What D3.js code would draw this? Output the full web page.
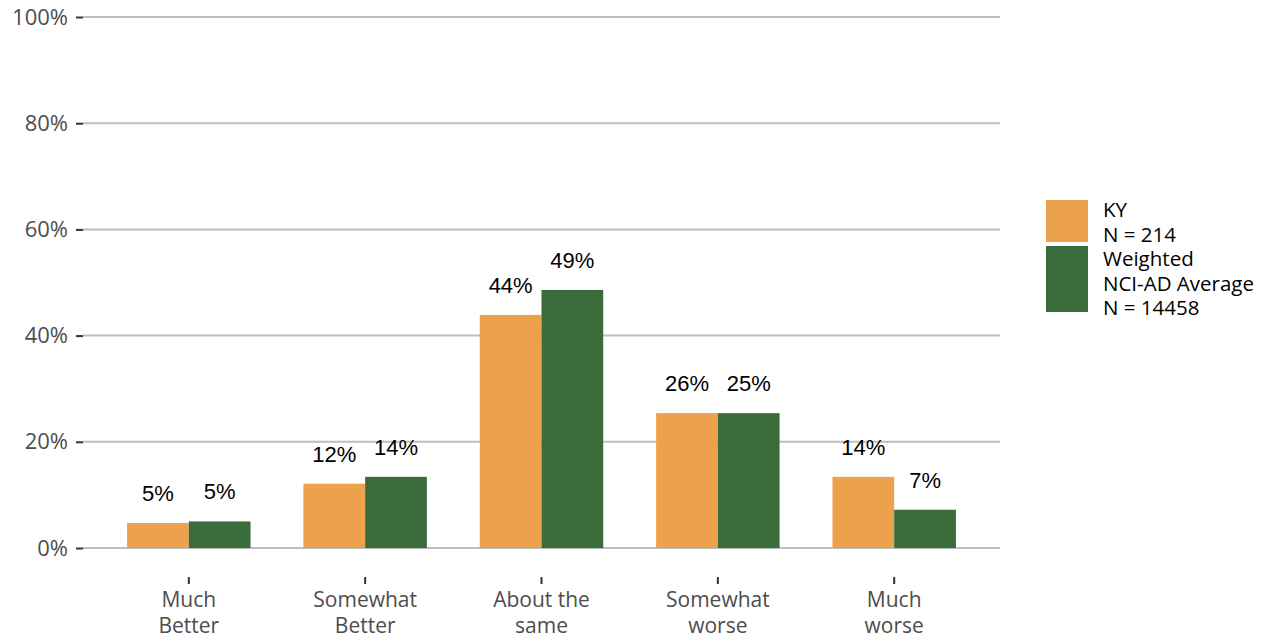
<!DOCTYPE html>
<html>
<head>
<meta charset="utf-8">
<script src="https://cdn.jsdelivr.net/npm/d3@7"></script>
<style>
  body { margin: 0; background: #fff; }
</style>
</head>
<body>
<div id="chart"></div>
<script>
// data
const categories = ["Much\nBetter", "Somewhat\nBetter", "About the\nsame", "Somewhat\nworse", "Much\nworse"];
const seriesNames = ["KY", "NCI-AD"];
const kyValues = [4.7, 12.1, 43.9, 25.4, 13.4];
const nciValues = [5.0, 13.4, 48.6, 25.4, 7.2];
const kyLabels = ["5%", "12%", "44%", "26%", "14%"];
const nciLabels = ["5%", "14%", "49%", "25%", "7%"];
const yTicks = [0, 20, 40, 60, 80, 100];
const legendLabels = [["KY", "N = 214"], ["Weighted", "NCI-AD Average", "N = 14458"]];

const colors = { "KY": "#eca14c", "NCI-AD": "#396b3b" };

const W = 1264, H = 641;
const svg = d3.select("#chart").append("svg")
  .attr("width", W).attr("height", H);

// panel runs 83..1000 in x, 0% at 548 and 100% at 17
const x = d3.scaleBand()
  .domain(categories)
  .range([83, 1000])
  .paddingOuter(0.1)
  .paddingInner(0);

const y = d3.scaleLinear().domain([0, 100]).range([548, 17]);

// gridlines
svg.append("g")
  .selectAll("line")
  .data(yTicks)
  .join("line")
  .attr("x1", 83).attr("x2", 1000)
  .attr("y1", d => y(d)).attr("y2", d => y(d))
  .attr("stroke", "#bebebe")
  .attr("stroke-width", 2);

// y axis
const yAxis = svg.append("g")
  .attr("transform", "translate(83,0)")
  .call(d3.axisLeft(y).tickValues(yTicks).tickFormat(d => d + "%").tickSize(7).tickPadding(8));
yAxis.select(".domain").remove();
yAxis.selectAll(".tick line").attr("stroke", "#333").attr("stroke-width", 2);
yAxis.selectAll("text")
  .style("font-family", "'Open Sans', sans-serif")
  .style("font-size", "22px")
  .attr("fill", "#4d4d4d");

// bars
const rows = categories.map((c, i) => ({ cat: c, vals: [
  { s: "KY", v: kyValues[i], lab: kyLabels[i] },
  { s: "NCI-AD", v: nciValues[i], lab: nciLabels[i] }
] }));

const barW = x.bandwidth() * 0.35;
const groups = svg.append("g").selectAll("g")
  .data(rows)
  .join("g")
  .attr("transform", d => `translate(${x(d.cat) + x.bandwidth() / 2},0)`);

groups.selectAll("rect")
  .data(d => d.vals)
  .join("rect")
  .attr("x", (d, i) => i === 0 ? -barW : 0)
  .attr("width", barW)
  .attr("y", d => y(d.v))
  .attr("height", d => y(0) - y(d.v))
  .attr("fill", d => colors[d.s]);

groups.selectAll("text")
  .data(d => d.vals)
  .join("text")
  .attr("x", (d, i) => i === 0 ? -barW / 2 : barW / 2)
  .attr("y", d => y(d.v) - 22)
  .attr("text-anchor", "middle")
  .style("font-family", "'Liberation Sans', Arial, sans-serif")
  .style("font-size", "22px")
  .attr("fill", "#000")
  .text(d => d.lab);

// x axis ticks and labels
const xg = svg.append("g").selectAll("g")
  .data(categories)
  .join("g")
  .attr("transform", d => `translate(${x(d) + x.bandwidth() / 2},0)`);
xg.append("line")
  .attr("y1", 577).attr("y2", 584)
  .attr("stroke", "#333").attr("stroke-width", 2);
xg.append("text")
  .attr("text-anchor", "middle")
  .style("font-family", "'Open Sans', sans-serif")
  .style("font-size", "21px")
  .attr("fill", "#4d4d4d")
  .selectAll("tspan")
  .data(d => d.split("\n"))
  .join("tspan")
  .attr("x", 0)
  .attr("y", (d, i) => 607 + i * 26)
  .text(d => d);

// legend
const legendTop = [200, 246];
const legendH = [42, 66];
const legend = svg.append("g");
seriesNames.forEach((s, i) => {
  legend.append("rect")
    .attr("x", 1046).attr("y", legendTop[i])
    .attr("width", 42).attr("height", legendH[i])
    .attr("fill", colors[s]);
});
const legLines = legendLabels.flat();
legend.selectAll("text")
  .data(legLines)
  .join("text")
  .attr("x", 1103)
  .attr("y", (d, i) => 217 + i * 24.5)
  .style("font-family", "'Open Sans', sans-serif")
  .style("font-size", "20.5px")
  .attr("fill", "#000")
  .text(d => d);
</script>
</body>
</html>
